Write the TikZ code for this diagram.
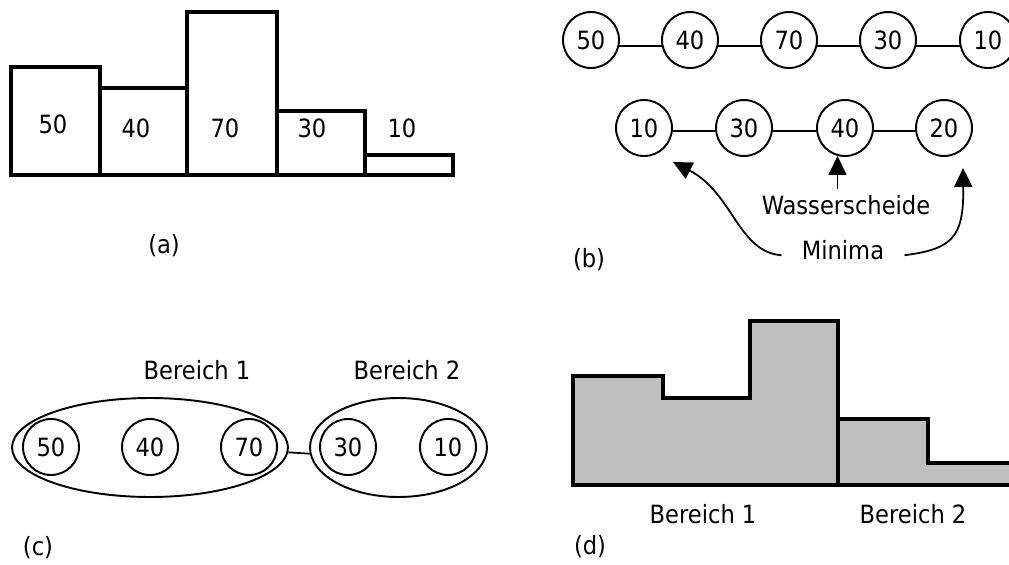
\documentclass[tikz,border=0pt]{standalone}
\usepackage{fontspec}
\setmainfont{DejaVu Sans Condensed}
\usetikzlibrary{arrows.meta,shapes.geometric}
\begin{document}
\begin{tikzpicture}[x=0.02cm,y=-0.02cm,font=\fontsize{14.3pt}{17pt}\selectfont]
		% Styles
		\tikzstyle{balken}=[draw,line width=2.3pt]
		\tikzstyle{wert}=[circle,draw,line width=1.1pt,minimum size=1.12cm,inner sep=0pt]
		\tikzstyle{bereich}=[ellipse,draw,line width=1.1pt,inner sep=0pt,minimum height=1.98cm]
		\tikzstyle{kante}=[-,line width=1pt]
		\tikzstyle{pfeil}=[-{Triangle[width=0.36cm,length=0.38cm]},line width=1pt]
		\tikzstyle{flaeche}=[fill=gray!50,draw,line width=2.3pt]
		% Dimensionen
		\def\ZeileOben{40}
		\def\ZeileUnten{128}
		\def\ZeileC{447}
		\def\Boden{175}
		\clip (0,0) rectangle (1009,565);
		
		% (a) Histogramm
		\draw[balken] (11,\Boden) rectangle (100,67);
		\draw[balken] (100,\Boden) rectangle (187,88);
		\draw[balken] (187,\Boden) rectangle (277,12);
		\draw[balken] (277,\Boden) rectangle (365,111);
		\draw[balken] (365,\Boden) rectangle (453,155);
		\node (A50) at (53,124) {50};
		\node (A40) at (136,128) {40};
		\node (A70) at (225,128) {70};
		\node (A30) at (312,128) {30};
		\node (A10) at (402,128) {10};
		\node (La) at (164,246) {(a)};
		
		% (b) Graph
		\node[wert] (O50) at (591,\ZeileOben) {50};
		\node[wert] (O40) at (690,\ZeileOben) {40};
		\node[wert] (O70) at (789,\ZeileOben) {70};
		\node[wert] (O30) at (888,\ZeileOben) {30};
		\node[wert] (O10) at (988,\ZeileOben) {10};
		\node[wert] (U10) at (644,\ZeileUnten) {10};
		\node[wert] (U30) at (744,\ZeileUnten) {30};
		\node[wert] (U40) at (845,\ZeileUnten) {40};
		\node[wert] (U20) at (944,\ZeileUnten) {20};
		\node (W) at (846,205) {Wasserscheide};
		\node[inner xsep=0.4cm] (Mi) at (843,250) {Minima};
		\node (Lb) at (589,260) {(b)};
		
		\draw[kante] (O50.-12) -- (O40.192);
		\draw[kante] (O40.-12) -- (O70.192);
		\draw[kante] (O70.-12) -- (O30.192);
		\draw[kante] (O30.-12) -- (O10.192);
		\draw[kante] (U10.-6) -- (U30.186);
		\draw[kante] (U30.-6) -- (U40.186);
		\draw[kante] (U40.-6) -- (U20.186);
		\draw[pfeil] (W.north -| U40.-105) -- (U40.-105);
		\draw[pfeil] ([yshift=-3pt]Mi.west) .. controls (738,252) and (733,193) .. (673,162);
		\draw[pfeil] ([yshift=-3pt]Mi.east) .. controls (952,249) and (964,238) .. (963,168);
		
		% (c) Bereiche
		\node[bereich,minimum width=5.52cm] (E1) at (150,447.5) {};
		\node[bereich,minimum width=3.54cm] (E2) at (398.5,447.5) {};
		\node[wert] (C50) at (51,\ZeileC) {50};
		\node[wert] (C40) at (150,\ZeileC) {40};
		\node[wert] (C70) at (249,\ZeileC) {70};
		\node[wert] (C30) at (348,\ZeileC) {30};
		\node[wert] (C10) at (448,\ZeileC) {10};
		\node (B1) at (197,370) {Bereich 1};
		\node (B2) at (407,370) {Bereich 2};
		\node (Lc) at (38,548) {(c)};
		\draw[kante] (E1.-2.5) -- (E2.184);
		
		% (d) Flaechen
		\draw[flaeche] (573,485) -- (573,376) -- (663,376) -- (663,398) -- (750,398) -- (750,321)
			-- (838,321) -- (838,419) -- (928,419) -- (928,463) -- (1020,463) -- (1020,485) -- cycle;
		\draw[balken] (838,419) -- (838,485);
		\node (D1) at (703,514) {Bereich 1};
		\node (D2) at (913,514) {Bereich 2};
		\node (Ld) at (590,547) {(d)};
		
	\end{tikzpicture}
\end{document}
